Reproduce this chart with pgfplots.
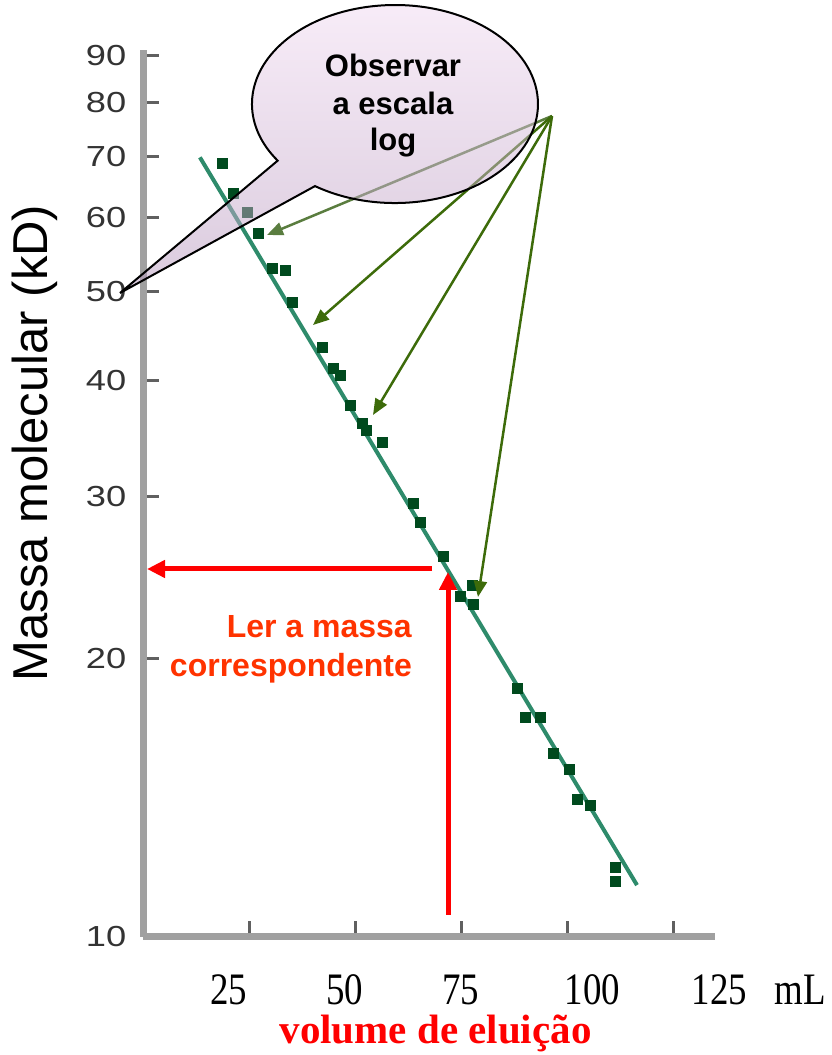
\documentclass[border=0pt]{standalone}
\usepackage{pgfplots}
\pgfplotsset{compat=1.18}
\usepackage{fontspec}
\setmainfont{Liberation Serif}
\newfontfamily\arial{Liberation Sans}
\usetikzlibrary{arrows.meta}
\definecolor{axgray}{HTML}{A0A0A0}
\definecolor{tickgray}{HTML}{606060}
\definecolor{fitline}{HTML}{2E8B6B}
\definecolor{ptgreen}{HTML}{004A1E}
\definecolor{arrgreen}{HTML}{3D6B0A}
\definecolor{arrgreenL}{HTML}{5A7D3F}
\definecolor{txtred}{HTML}{FF3300}
\definecolor{bubtop}{HTML}{F3DCF3}
\definecolor{bubbot}{HTML}{B597BC}
\newcommand\xs[2]{\makebox[0pt]{\hspace*{#1}\hspace*{#1}\scalebox{0.82}[1]{#2}}}
\newcommand\ys[1]{\scalebox{1.25}[1]{#1}}
\begin{document}
\begin{tikzpicture}
\path[use as bounding box] (0,0) rectangle (831pt,1055pt);
\begin{axis}[
  at={(143.5pt,118pt)}, anchor=south west,
  scale only axis, width=571.5pt, height=887pt,
  xmin=0, xmax=134.8, ymode=log, ymin=10, ymax=91.2,
  axis lines=left,
  axis line style={-, line width=7pt, color=axgray},
  clip=false,
  xtick={25,50,75,100,125},
  xticklabels={\xs{-21pt}{25},\xs{-11pt}{50},\xs{-1pt}{75},\xs{25pt}{100},\xs{46pt}{125}},
  ytick={20,30,40,50,60,70,80,90},
  yticklabels={\ys{20},\ys{30},\ys{40},\ys{50},\ys{60},\ys{70},\ys{80},\ys{90}},
  extra y ticks={10},
  extra y tick labels={\ys{10}},
  extra y tick style={major tick length=0pt},
  minor ytick={},
  tick align=inside, major tick length=16pt,
  tick style={line width=3pt, color=tickgray},
  xticklabel style={font=\fontsize{45}{45}\selectfont, text=black, anchor=base, yshift=-68pt, inner sep=0pt},
  yticklabel style={font=\arial\fontsize{29}{29}\selectfont, text=black!80, anchor=east, xshift=-17pt, inner sep=0pt},
  ylabel={Massa molecular (kD)},
  ylabel style={font=\arial\fontsize{49}{49}\selectfont, at={(axis description cs:-0.1899,0.557)}, anchor=center},
  xlabel={volume de eluição},
  xlabel style={font=\bfseries\fontsize{41}{41}\selectfont, text=red, at={(axis description cs:0.511,-0.1206)}, anchor=base},
]
\addplot[fitline, line width=4pt, no marks] coordinates {(13.3,69.8) (116.4,11.38)};
\addplot[only marks, mark=square*, mark size=5pt, color=ptgreen] coordinates {
(18.5,68.8) (21.1,63.9) (24.4,60.9) (27.0,57.8) (30.3,53.0) (33.4,52.7)
(35.0,48.7) (42.1,43.5) (44.7,41.3) (46.3,40.6) (48.7,37.6) (51.5,36.0)
(52.5,35.4) (56.25,34.3) (63.6,29.5) (65.2,28.1) (70.6,25.8) (77.5,24.0)
(74.6,23.4) (77.7,22.9) (88.1,18.6) (90.0,17.3) (93.5,17.3) (96.6,15.8)
(100.3,15.2) (102.2,14.1) (105.3,13.9) (111.2,11.9) (111.2,11.5)
};
\end{axis}
\begin{scope}[x=1pt,y=1pt]
\draw[arrgreenL, line width=2.5pt, -{Triangle[length=16pt,width=13pt]}] (552,939) -- (267,820);
\draw[arrgreen, line width=2.5pt, -{Triangle[length=16pt,width=13pt]}] (552,939) -- (313,730);
\draw[arrgreen, line width=2.5pt, -{Triangle[length=16pt,width=13pt]}] (552,939) -- (373,640);
\draw[arrgreen, line width=2.5pt, -{Triangle[length=16pt,width=13pt]}] (552,939) -- (478,458);
\draw[red, line width=5pt, -{Triangle[length=18pt,width=17pt]}] (432,486) -- (147,486);
\draw[red, line width=5pt, -{Triangle[length=18pt,width=17pt]}] (448,140) -- (448,483);
\node[anchor=base east, text=txtred, font=\arial\bfseries\fontsize{32}{32}\selectfont, inner sep=0pt] at (412,417) {Ler a massa};
\node[anchor=base east, text=txtred, font=\arial\bfseries\fontsize{32}{32}\selectfont, inner sep=0pt] at (412,378) {correspondente};
\node[anchor=base, font=\fontsize{45}{45}\selectfont, inner sep=0pt] at (800,50) {\scalebox{0.82}[1]{mL}};
\path[draw=black, line width=2pt, top color=bubtop, bottom color=bubbot, fill opacity=0.5, draw opacity=1]
  (315,868.9) arc[start angle=236, end angle=574.9, x radius=143, y radius=99] -- (120,762) -- cycle;
\node[anchor=base, font=\arial\bfseries\fontsize{31}{31}\selectfont, inner sep=0pt] at (393,978) {Observar};
\node[anchor=base, font=\arial\bfseries\fontsize{31}{31}\selectfont, inner sep=0pt] at (393,940) {a escala};
\node[anchor=base, font=\arial\bfseries\fontsize{31}{31}\selectfont, inner sep=0pt] at (393,904) {log};
\end{scope}
\end{tikzpicture}
\end{document}
